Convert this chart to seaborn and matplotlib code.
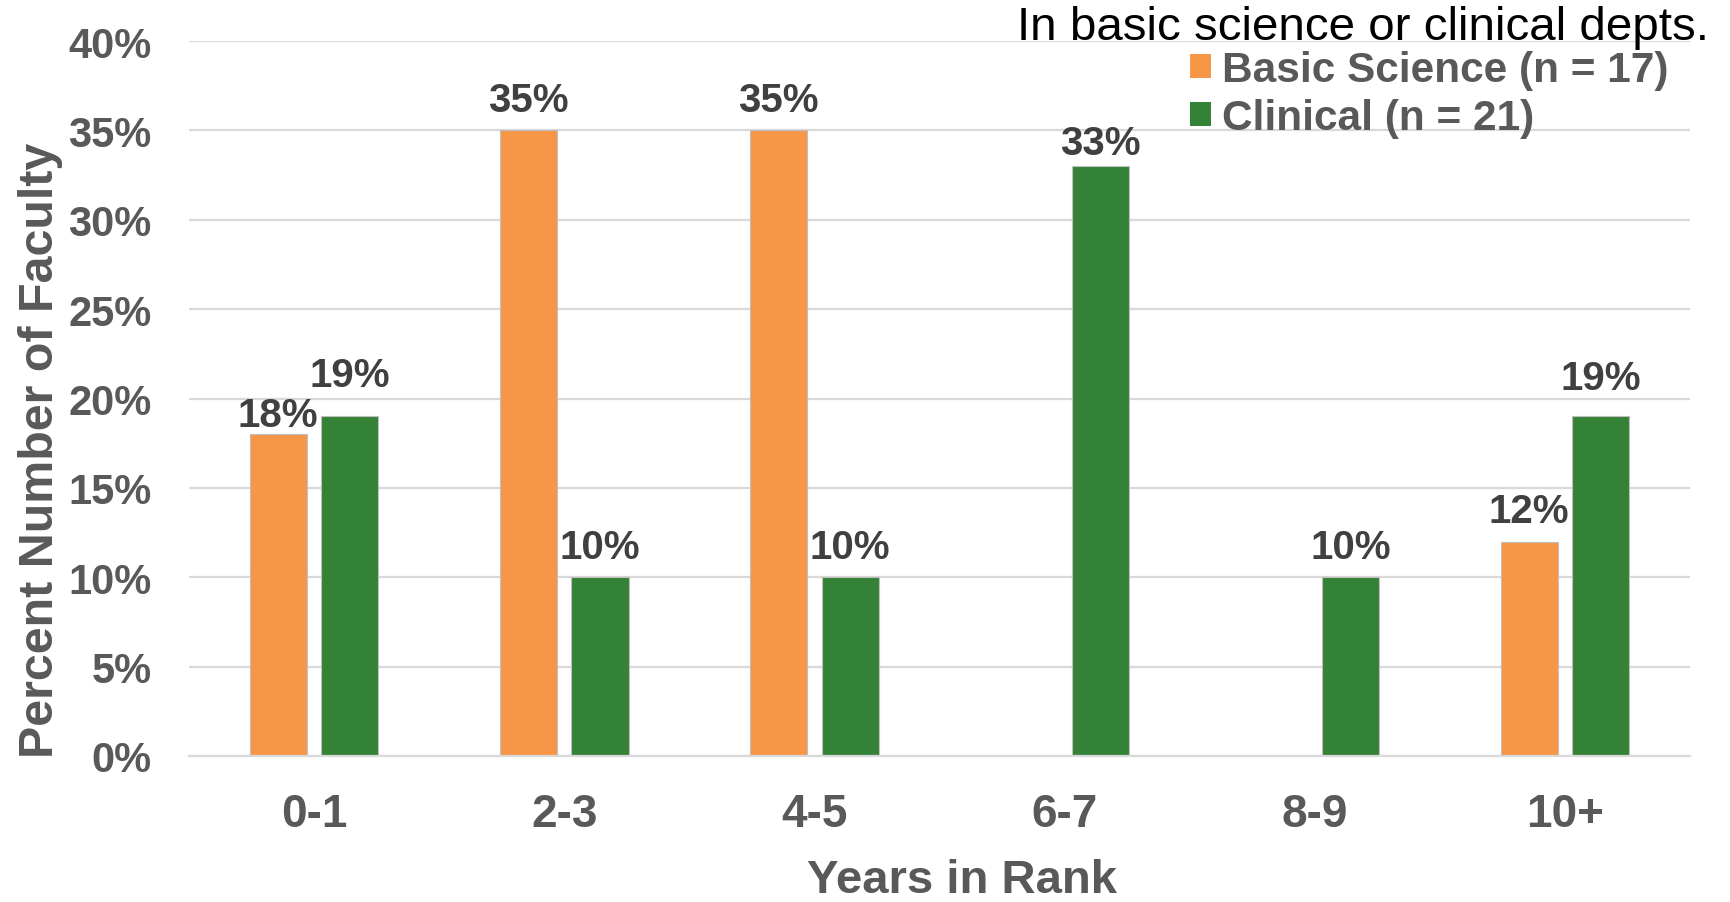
import numpy as np
import pandas as pd
import matplotlib
matplotlib.use("Agg")
import matplotlib.pyplot as plt
import seaborn as sns
from matplotlib.patches import Patch

# ---- data -------------------------------------------------------------
years = ["0-1", "2-3", "4-5", "6-7", "8-9", "10+"]
basic_science = [18, 35, 35, 0, 0, 12]
clinical = [19, 10, 10, 33, 10, 19]
series_names = ["Basic Science (n = 17)", "Clinical (n = 21)"]
y_ticks = [0, 5, 10, 15, 20, 25, 30, 35, 40]
title_text = "In basic science or clinical depts."

colors = ["#F79646", "#348235"]
text_grey = "#595959"
label_grey = "#404040"
grid_grey = "#D9D9D9"

df = pd.DataFrame({
    "Years in Rank": years * 2,
    "Percent": basic_science + clinical,
    "Group": [series_names[0]] * len(years) + [series_names[1]] * len(years),
})

sns.set_theme(style="white")
plt.rcParams["font.family"] = ["Liberation Sans", "DejaVu Sans"]

fig = plt.figure(figsize=(17.31, 9.03), dpi=100)
ax = fig.add_axes([189 / 1731, 1 - 757 / 903, 1501 / 1731, 715 / 903])

sns.barplot(
    data=df, x="Years in Rank", y="Percent", hue="Group",
    hue_order=series_names, order=years, palette=colors,
    width=0.572, gap=0.2, edgecolor="#BFBFBF", linewidth=0.8,
    saturation=1, legend=False, ax=ax, zorder=3,
)

# value labels on the non-empty bars; a few are nudged to keep them apart
label_offsets = {(0, 0): 0, (1, 0): 16, (1, 3): 3, (1, 5): 14}
for s, container in enumerate(ax.containers):
    vals = container.datavalues
    labels = [f"{v:.0f}%" if v > 0 else "" for v in vals]
    anns = ax.bar_label(container, labels=labels, padding=8, fontsize=29,
                        fontweight="bold", color=label_grey)
    for i, ann in enumerate(anns):
        if (s, i) in label_offsets:
            ann.xyann = (0, label_offsets[(s, i)])

ax.set_ylim(0, 40)
ax.set_xlim(-0.5, len(years) - 0.5)
ax.set_yticks(y_ticks)
ax.set_yticklabels([f"{t}%" for t in y_ticks])
ax.yaxis.grid(True, color=grid_grey, linewidth=1.6, zorder=0)
ax.xaxis.grid(False)
for side in ["top", "right", "left"]:
    ax.spines[side].set_visible(False)
ax.spines["bottom"].set_color(grid_grey)
ax.spines["bottom"].set_linewidth(1.6)
ax.spines["bottom"].set_zorder(4)

ax.tick_params(axis="y", length=0, pad=27, labelsize=30, labelcolor=text_grey)
ax.tick_params(axis="x", length=0, pad=26, labelsize=33, labelcolor=text_grey)
for lab in ax.get_xticklabels() + ax.get_yticklabels():
    lab.set_fontweight("bold")

ax.set_xlabel("Years in Rank", fontsize=34, fontweight="bold", color=text_grey)
ax.set_ylabel("Percent Number of Faculty", fontsize=34.8, fontweight="bold", color=text_grey)
ax.xaxis.set_label_coords(0.515, -0.142)
ax.yaxis.set_label_coords(-0.084, 0.429)

handles = [Patch(facecolor=c, edgecolor="none") for c in colors]
leg = ax.legend(
    handles, series_names, loc="upper left",
    bbox_to_anchor=(1190 / 1731, 1 - 51 / 903), bbox_transform=fig.transFigure,
    frameon=False, fontsize=30.5, handlelength=0.5, handleheight=0.5,
    handletextpad=0.25, labelspacing=0.18, borderpad=0, borderaxespad=0,
)
for t in leg.get_texts():
    t.set_color(text_grey)
    t.set_fontweight("bold")

fig.text(1709 / 1731, 1 - 40 / 903, title_text, ha="right", va="baseline",
         fontsize=34.2, color="black")

fig.savefig("out.png", dpi=100)
